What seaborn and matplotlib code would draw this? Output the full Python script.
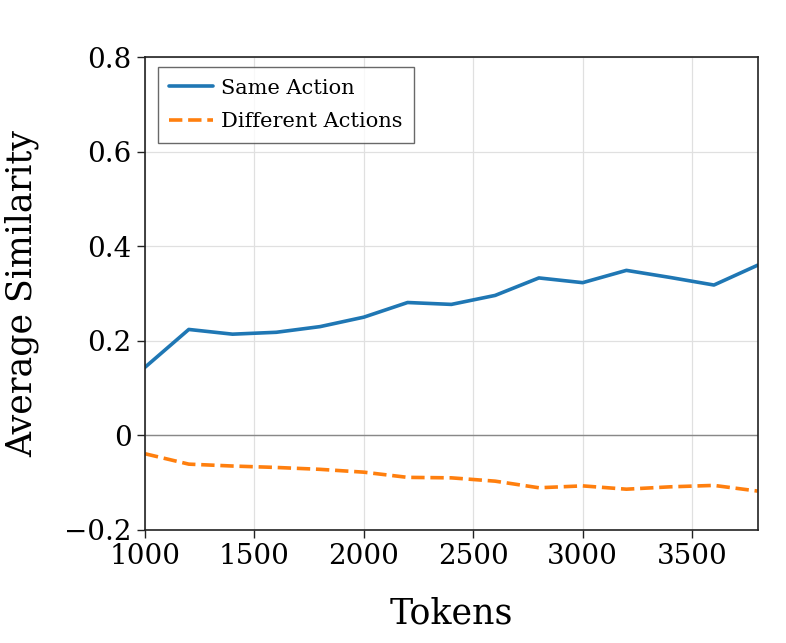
import numpy as np
import pandas as pd
import matplotlib
matplotlib.use("Agg")
import matplotlib.pyplot as plt
import seaborn as sns
from matplotlib.ticker import FuncFormatter

# data
tokens = [1000, 1200, 1400, 1600, 1800, 2000, 2200, 2400, 2600, 2800, 3000, 3200, 3400, 3600, 3800]
same_action = [0.144, 0.224, 0.214, 0.218, 0.230, 0.250, 0.281, 0.277, 0.296, 0.333, 0.323, 0.349, 0.334, 0.318, 0.360]
diff_actions = [-0.039, -0.061, -0.065, -0.068, -0.072, -0.078, -0.089, -0.090, -0.097, -0.111, -0.107, -0.114, -0.109, -0.106, -0.118]

sns.set_style("whitegrid")
plt.rcParams['font.family'] = ['DejaVu Serif']
for k in ['text.color', 'axes.labelcolor', 'xtick.color', 'ytick.color']:
    plt.rcParams[k] = 'black'

df = pd.DataFrame({'Tokens': tokens, 'Same Action': same_action, 'Different Actions': diff_actions})

fig, ax = plt.subplots(figsize=(7.86, 6.43), dpi=100)
fig.subplots_adjust(left=0.1845, right=0.964, top=0.911, bottom=0.176)

ax.axhline(0, color='#888888', lw=1.0, zorder=1)
sns.lineplot(data=df, x='Tokens', y='Same Action', ax=ax, color='#1f77b4', lw=2.6, label='Same Action')
sns.lineplot(data=df, x='Tokens', y='Different Actions', ax=ax, color='#ff7f0e', lw=2.6,
             linestyle='--', label='Different Actions')

ax.set_xlim(1000, 3800)
ax.set_ylim(-0.2, 0.8)
ax.set_xticks([1000, 1500, 2000, 2500, 3000, 3500])
ax.set_yticks([-0.2, 0, 0.2, 0.4, 0.6, 0.8])
ax.yaxis.set_major_formatter(FuncFormatter(lambda v, p: '0' if abs(v) < 1e-9 else f'{v:.1f}'.replace('-', '\u2212')))

ax.set_xlabel('Tokens', fontsize=25, labelpad=19)
ax.set_ylabel('Average Similarity', fontsize=25, labelpad=18)
ax.tick_params(axis='both', labelsize=20, length=6, width=1, color='#222222', left=True, bottom=True)
ax.grid(True, color='#e0e0e0', lw=0.9)

for s in ax.spines.values():
    s.set_color('#222222')
    s.set_linewidth(1.2)

leg = ax.legend(loc='upper left', fontsize=15, fancybox=False, frameon=True, borderpad=0.55,
                handlelength=2.1, handletextpad=0.4, labelspacing=0.7,
                bbox_to_anchor=(0.021, 0.979), borderaxespad=0)
leg.get_frame().set_edgecolor('#444444')
leg.get_frame().set_linewidth(1.0)

plt.savefig('out.png', dpi=100)
